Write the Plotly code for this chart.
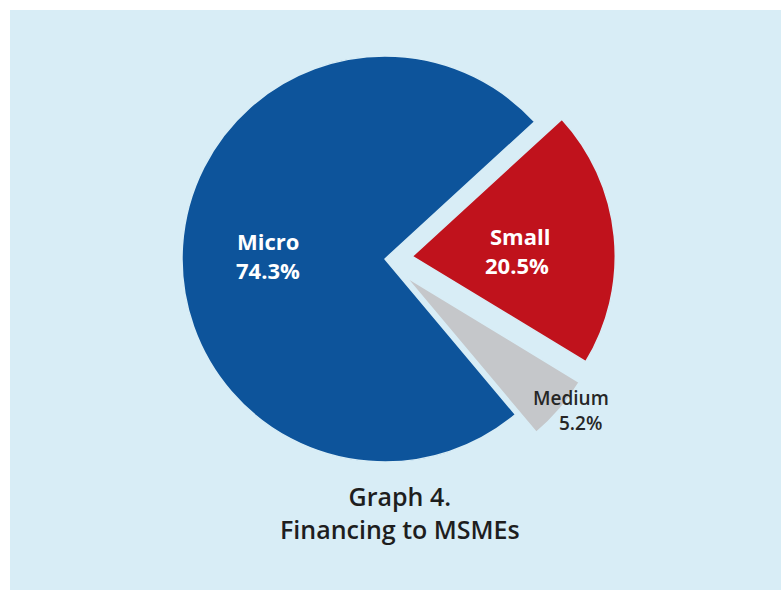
import plotly.graph_objects as go

# Data
categories = ["Micro", "Small", "Medium"]
shares = [74.3, 20.5, 5.2]
pulls = [0, 0.135, 0.135]

slice_colors = ["#0d549b", "#c0121c", "#c5c7ca"]
panel_color = "#d8edf6"

W, H = 781, 590


def px(x):
    return x / W


def py(y):
    return 1 - y / H


# Pie geometry (pixels): centre and radius of the unpulled pie
cx, cy, r = 385, 259, 203
half = r * (1 + max(pulls))

fig = go.Figure()
fig.add_trace(go.Pie(
    labels=categories,
    values=shares,
    sort=False,
    direction="clockwise",
    rotation=140,
    pull=pulls,
    marker=dict(colors=slice_colors, line=dict(color=panel_color, width=1.5)),
    textinfo="none",
    hoverinfo="label+percent",
    showlegend=False,
    domain=dict(x=[px(cx - half), px(cx + half)], y=[py(cy + half), py(cy - half)]),
))

# Slice labels: name line and value line, each placed by its centre (pixels)
name_pos = [(268, 241), (520, 236), (571, 398)]
value_pos = [(268, 270), (517, 265), (580, 423)]
label_fonts = [
    dict(family="Open Sans", size=22, color="white", weight=700),
    dict(family="Open Sans", size=22, color="white", weight=700),
    dict(family="Open Sans", size=19, color="#262626", weight=600),
]
annotations = []
for name, val, (nx, ny), (vx, vy), f in zip(categories, shares, name_pos, value_pos, label_fonts):
    for txt, (ax, ay) in ((name, (nx, ny)), (f"{val:.1f}%", (vx, vy))):
        annotations.append(dict(
            x=px(ax), y=py(ay), xref="paper", yref="paper",
            text=txt, showarrow=False,
            xanchor="center", yanchor="middle", font=f,
        ))

# Caption below the pie
caption = "Graph 4.<br>Financing to MSMEs"
annotations.append(dict(
    x=px(400), y=py(512.5), xref="paper", yref="paper",
    text=caption, showarrow=False, align="center",
    xanchor="center", yanchor="middle",
    font=dict(family="Open Sans", size=25, color="#1e1e1e", weight=600),
))

fig.update_layout(
    width=W, height=H,
    margin=dict(l=0, r=0, t=0, b=0),
    paper_bgcolor="white",
    plot_bgcolor="white",
    shapes=[dict(type="rect", xref="paper", yref="paper",
                 x0=px(10), x1=1, y0=0, y1=py(10),
                 fillcolor=panel_color, line=dict(width=0), layer="below")],
    annotations=annotations,
)

fig.write_html("out.html")
